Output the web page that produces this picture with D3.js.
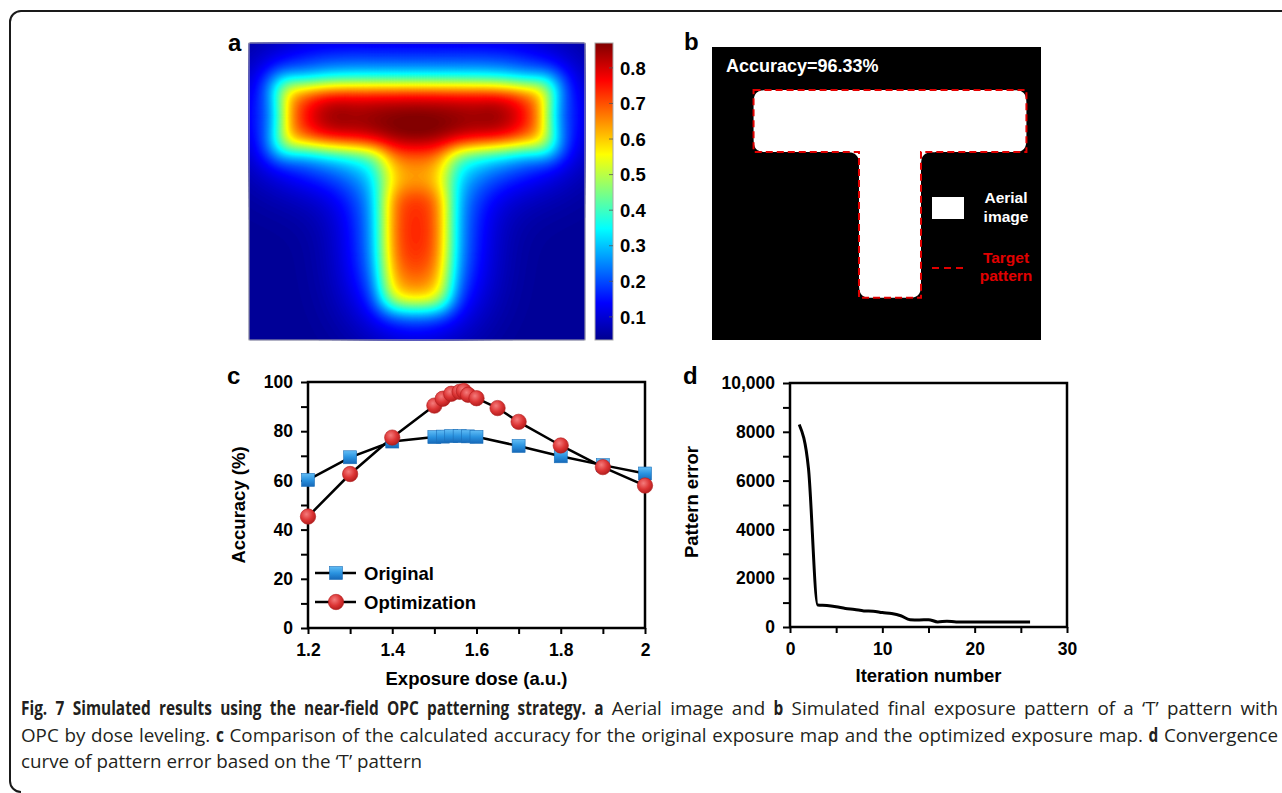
<!DOCTYPE html>
<meta charset="utf-8">
<title>Fig. 7 near-field OPC</title>
<style>
body { margin: 0; background: #fff; }
svg text { font-family: "Liberation Sans", Arial, sans-serif; }
.cap text { font-family: "Open Sans", sans-serif; font-size: 18.8px; fill: #231f20; }
</style>
<body>
<div id="fig"></div>
<script src="https://cdn.jsdelivr.net/npm/d3@7"></script>
<script>

// ---- panel a / b : T pattern (pattern units) ----
var targetRects = [[-4.4, 4.4, 0, 2], [-1, 1, 2, 6.7]];           // bar, stem
var targetOutline = [[-4.4, 0], [4.4, 0], [4.4, 2], [1, 2], [1, 6.7], [-1, 6.7], [-1, 2], [-4.4, 2]];
// exposure map with OPC used for the aerial image:
// bar, upper stem, lower stem, 4 corner serifs, 2 dose boosts in the bar
var doseRects = [[-4.3, 4.3, 0, 2], [-1.02, 1.08, 2, 3.4], [-1.02, 1.08, 3.4, 7.2],
  [-4.7, -4.0, -0.35, 0.35], [4.0, 4.7, -0.35, 0.35], [-4.7, -4.0, 1.65, 2.35], [4.0, 4.7, 1.65, 2.35],
  [-3.4, -2.2, 0.3, 1.7], [2.2, 3.4, 0.3, 1.7]];
var doseWeights = [0.97, 0.55, 0.88, 0.4, 0.4, 0.4, 0.4, 0.1, 0.1];
var colorbarTicks = [0.1, 0.2, 0.3, 0.4, 0.5, 0.6, 0.7, 0.8];
var colorDomain = [0.035, 0.87];
var accuracyText = "Accuracy=96.33%";

// ---- panel c ----
var doseOriginal = [1.2, 1.3, 1.4, 1.5, 1.52, 1.54, 1.56, 1.58, 1.6, 1.7, 1.8, 1.9, 2.0];
var accOriginal  = [60.2, 69.4, 75.8, 77.6, 77.8, 78.0, 78.0, 77.9, 77.7, 74.0, 69.8, 66.2, 62.8];
var doseOptim = [1.2, 1.3, 1.4, 1.5, 1.52, 1.54, 1.56, 1.57, 1.58, 1.6, 1.65, 1.7, 1.8, 1.9, 2.0];
var accOptim  = [45.3, 62.6, 77.4, 90.4, 93.2, 95.2, 96.0, 96.33, 94.8, 93.4, 89.4, 83.8, 74.2, 65.4, 57.9];
var doseTicks = [1.2, 1.3, 1.4, 1.5, 1.6, 1.7, 1.8, 1.9, 2.0];
var accTicks = [0, 10, 20, 30, 40, 50, 60, 70, 80, 90, 100];

// ---- panel d ----
var iterations = [1, 2, 3, 4, 5, 6, 7, 8, 9, 10, 11, 12, 13, 14, 15, 16, 17, 18, 19, 20, 21, 22, 23, 24, 25, 26];
var patternError = [8300, 6500, 900, 880, 830, 760, 720, 660, 650, 590, 550, 460, 300, 290, 300,
  210, 240, 210, 210, 210, 210, 210, 210, 210, 210, 210];
var iterTicks = [0, 5, 10, 15, 20, 25, 30];
var errTicks = [0, 1000, 2000, 3000, 4000, 5000, 6000, 7000, 8000, 9000, 10000];

var W = 1282, H = 793;
var svg = d3.select("#fig").append("svg").attr("width", W).attr("height", H);
var defs = svg.append("defs");

// frame
svg.append("path")
  .attr("d", "M1290,11 H21 A11,11 0 0 0 10,22 V781 A11,11 0 0 0 21,792")
  .attr("fill", "none").attr("stroke", "#1a1a1a").attr("stroke-width", 2);

// ---------- helpers ----------
function erf(x) {
  var s = x < 0 ? -1 : 1; x = Math.abs(x);
  var t = 1 / (1 + 0.3275911 * x);
  var y = 1 - (((((1.061405429 * t - 1.453152027) * t) + 1.421413741) * t - 0.284496736) * t + 0.254829592) * t * Math.exp(-x * x);
  return s * y;
}
function blurRect(x, y, r, s) {
  var k = 1 / (s * Math.SQRT2);
  return 0.25 * (erf((x - r[0]) * k) - erf((x - r[1]) * k)) * (erf((y - r[2]) * k) - erf((y - r[3]) * k));
}
function gridValues(xd, yd, nx, ny, f) {
  var dx = (xd[1] - xd[0]) / nx, dy = (yd[1] - yd[0]) / ny, v = new Array(nx * ny);
  for (var j = 0; j < ny; j++) for (var i = 0; i < nx; i++)
    v[j * nx + i] = f(xd[0] + (i + 0.5) * dx, yd[0] + (j + 0.5) * dy);
  return v;
}
function gridPath(xs, ys, nx, ny) {
  var xd = xs.domain(), yd = ys.domain();
  return d3.geoPath(d3.geoTransform({ point: function (gx, gy) {
    this.stream.point(xs(xd[0] + gx * (xd[1] - xd[0]) / nx), ys(yd[0] + gy * (yd[1] - yd[0]) / ny));
  }}));
}

// jet colour map
var jetStops = [0, 0.125, 0.375, 0.625, 0.875, 1];
var jet = d3.scaleLinear()
  .domain(jetStops.map(function (t) { return colorDomain[0] + t * (colorDomain[1] - colorDomain[0]); }))
  .range(["#00008f", "#0000ff", "#00ffff", "#ffff00", "#ff0000", "#800000"])
  .clamp(true);

// ---------- panel a ----------
var xa = d3.scaleLinear().domain([-5.35, 5.48]).range([249, 585]);
var ya = d3.scaleLinear().domain([-1.35, 8.23]).range([43, 340]);
var nxA = 224, nyA = 198;
function aerial(x, y) {
  var v = 0.04;
  doseRects.forEach(function (r, k) {
    v += doseWeights[k] * (0.38 * blurRect(x, y, r, 0.35) + 0.7 * blurRect(x, y, r, 1.2));
  });
  return v;
}
var valsA = gridValues(xa.domain(), ya.domain(), nxA, nyA, aerial);
var step = 0.005;
var levels = d3.range(colorDomain[0], colorDomain[1], step);
var contA = d3.contours().size([nxA, nyA]).thresholds(levels)(valsA);
var gA = svg.append("g");
gA.append("rect").attr("x", xa.range()[0]).attr("y", ya.range()[0])
  .attr("width", xa.range()[1] - xa.range()[0]).attr("height", ya.range()[1] - ya.range()[0])
  .attr("fill", jet(colorDomain[0]));
var pathA = gridPath(xa, ya, nxA, nyA);
gA.selectAll("path").data(contA).enter().append("path")
  .attr("d", pathA)
  .attr("fill", function (d) { return jet(d.value + step / 2); })
  .attr("stroke", function (d) { return jet(d.value + step / 2); })
  .attr("stroke-width", 0.3);
gA.append("rect").attr("x", xa.range()[0]).attr("y", ya.range()[0])
  .attr("width", xa.range()[1] - xa.range()[0]).attr("height", ya.range()[1] - ya.range()[0])
  .attr("fill", "none").attr("stroke", "#a8a8a8").attr("stroke-width", 1);

// colour bar
var yc = d3.scaleLinear().domain(colorDomain).range([340, 43]);
var grad = defs.append("linearGradient").attr("id", "jetgrad")
  .attr("x1", 0).attr("y1", 1).attr("x2", 0).attr("y2", 0);
grad.selectAll("stop").data(jet.domain()).enter().append("stop")
  .attr("offset", function (d) { return (d - colorDomain[0]) / (colorDomain[1] - colorDomain[0]); })
  .attr("stop-color", function (d) { return jet(d); });
svg.append("rect").attr("x", 595).attr("y", yc(colorDomain[1])).attr("width", 18)
  .attr("height", yc(colorDomain[0]) - yc(colorDomain[1]))
  .attr("fill", "url(#jetgrad)").attr("stroke", "#a8a8a8").attr("stroke-width", 1);
var cbT = svg.append("g").selectAll("g").data(colorbarTicks).enter().append("g");
cbT.append("line").attr("x1", 609).attr("x2", 613)
  .attr("y1", function (d) { return yc(d); }).attr("y2", function (d) { return yc(d); })
  .attr("stroke", "#555").attr("stroke-width", 0.8);
cbT.append("text").attr("x", 620).attr("y", function (d) { return yc(d); }).attr("dy", "0.36em")
  .attr("font-size", 18.5).attr("font-weight", "bold").text(function (d) { return d.toFixed(1); });

// ---------- panel b ----------
var xb = d3.scaleLinear().domain([-5.74, 4.87]).range([712, 1041]);
var yb = d3.scaleLinear().domain([-1.39, 8.06]).range([47, 340]);
svg.append("rect").attr("x", 712).attr("y", 47).attr("width", 329).attr("height", 293).attr("fill", "#000");
var nxB = 330, nyB = 294;
var valsB = gridValues(xb.domain(), yb.domain(), nxB, nyB, function (x, y) {
  return targetRects.reduce(function (s, r) { return s + blurRect(x, y, r, 0.17); }, 0);
});
var contB = d3.contours().size([nxB, nyB]).thresholds([0.5])(valsB);
svg.append("g").selectAll("path").data(contB).enter().append("path")
  .attr("d", gridPath(xb, yb, nxB, nyB)).attr("fill", "#fff");
svg.append("path").datum(targetOutline)
  .attr("d", d3.line().x(function (d) { return xb(d[0]); }).y(function (d) { return yb(d[1]); }).curve(d3.curveLinearClosed))
  .attr("fill", "none").attr("stroke", "#e00000").attr("stroke-width", 2).attr("stroke-dasharray", "7,4");
svg.append("text").attr("x", 726).attr("y", 72).attr("fill", "#fff")
  .attr("font-size", 18).attr("font-weight", "bold").text(accuracyText);
// legend b
svg.append("rect").attr("x", 932).attr("y", 197).attr("width", 32).attr("height", 22).attr("fill", "#fff");
svg.append("text").attr("x", 1006).attr("y", 203).attr("text-anchor", "middle").attr("fill", "#fff")
  .attr("font-size", 15.5).attr("font-weight", "bold").text("Aerial");
svg.append("text").attr("x", 1006).attr("y", 222).attr("text-anchor", "middle").attr("fill", "#fff")
  .attr("font-size", 15.5).attr("font-weight", "bold").text("image");
svg.append("line").attr("x1", 932).attr("x2", 967).attr("y1", 268).attr("y2", 268)
  .attr("stroke", "#e00000").attr("stroke-width", 2).attr("stroke-dasharray", "7,5");
svg.append("text").attr("x", 1006).attr("y", 263).attr("text-anchor", "middle").attr("fill", "#e00000")
  .attr("font-size", 15.5).attr("font-weight", "bold").text("Target");
svg.append("text").attr("x", 1006).attr("y", 281).attr("text-anchor", "middle").attr("fill", "#e00000")
  .attr("font-size", 15.5).attr("font-weight", "bold").text("pattern");

// ---------- shared axis styling ----------
function styleAxis(g) {
  g.attr("font-family", null).attr("font-size", 17.5).attr("font-weight", "bold");
  g.select(".domain").remove();
  g.selectAll(".tick line").attr("stroke", "#000").attr("stroke-width", 2);
  g.selectAll(".tick text").attr("fill", "#000");
}
function box(xs, ys) {
  svg.append("rect").attr("x", xs.range()[0]).attr("y", ys.range()[1])
    .attr("width", xs.range()[1] - xs.range()[0]).attr("height", ys.range()[0] - ys.range()[1])
    .attr("fill", "none").attr("stroke", "#000").attr("stroke-width", 2.5);
}

// gradients for markers
var bg = defs.append("linearGradient").attr("id", "sq").attr("x1", 0).attr("y1", 0).attr("x2", 0).attr("y2", 1);
bg.append("stop").attr("offset", 0).attr("stop-color", "#62bdf5");
bg.append("stop").attr("offset", 0.5).attr("stop-color", "#2a93e0");
bg.append("stop").attr("offset", 1).attr("stop-color", "#1668b8");
var rg = defs.append("radialGradient").attr("id", "ci").attr("cx", 0.4).attr("cy", 0.35).attr("r", 0.65);
rg.append("stop").attr("offset", 0).attr("stop-color", "#f47c7c");
rg.append("stop").attr("offset", 0.6).attr("stop-color", "#dc3434");
rg.append("stop").attr("offset", 1).attr("stop-color", "#b41f1f");

// ---------- panel c ----------
var xc = d3.scaleLinear().domain([1.2, 2.0]).range([308, 645]);
var yv = d3.scaleLinear().domain([0, 100]).range([628, 382]);
box(xc, yv);
svg.append("g").attr("transform", "translate(0,628)")
  .call(d3.axisBottom(xc).tickValues(doseTicks).tickSize(6).tickPadding(10)
    .tickFormat(function (d) { var k = Math.round(d * 10); return k % 2 === 0 ? d3.format("~g")(d) : ""; }))
  .call(styleAxis);
svg.append("g").attr("transform", "translate(308,0)")
  .call(d3.axisLeft(yv).tickValues(accTicks).tickSize(7).tickPadding(8)
    .tickFormat(function (d) { return d % 20 === 0 ? d : ""; }))
  .call(styleAxis);
var optPts = doseOptim.map(function (d, i) { return [d, accOptim[i]]; });
var orgPts = doseOriginal.map(function (d, i) { return [d, accOriginal[i]]; });
var lineC = d3.line().x(function (d) { return xc(d[0]); }).y(function (d) { return yv(d[1]); });
svg.append("path").datum(orgPts).attr("d", lineC).attr("fill", "none").attr("stroke", "#000").attr("stroke-width", 2.5);
svg.append("path").datum(optPts).attr("d", lineC).attr("fill", "none").attr("stroke", "#000").attr("stroke-width", 2.5);
svg.append("g").selectAll("rect").data(orgPts).enter().append("rect")
  .attr("x", function (d) { return xc(d[0]) - 6.5; }).attr("y", function (d) { return yv(d[1]) - 6.5; })
  .attr("width", 13).attr("height", 13).attr("fill", "url(#sq)").attr("stroke", "#1d6fb8").attr("stroke-width", 0.6);
svg.append("g").selectAll("circle").data(optPts).enter().append("circle")
  .attr("cx", function (d) { return xc(d[0]); }).attr("cy", function (d) { return yv(d[1]); })
  .attr("r", 7.7).attr("fill", "url(#ci)").attr("stroke", "#b01c1c").attr("stroke-width", 0.6);
// legend c
var legC = svg.append("g");
[["Original", 573], ["Optimization", 602]].forEach(function (e, i) {
  legC.append("line").attr("x1", 315).attr("x2", 356).attr("y1", e[1]).attr("y2", e[1])
    .attr("stroke", "#000").attr("stroke-width", 2.5);
  if (i === 0) legC.append("rect").attr("x", 329.5).attr("y", e[1] - 6.5).attr("width", 13).attr("height", 13)
    .attr("fill", "url(#sq)").attr("stroke", "#1d6fb8").attr("stroke-width", 0.6);
  else legC.append("circle").attr("cx", 336).attr("cy", e[1]).attr("r", 7.7)
    .attr("fill", "url(#ci)").attr("stroke", "#b01c1c").attr("stroke-width", 0.6);
  legC.append("text").attr("x", 364).attr("y", e[1]).attr("dy", "0.36em")
    .attr("font-size", 18.5).attr("font-weight", "bold").text(e[0]);
});
svg.append("text").attr("transform", "translate(245,505) rotate(-90)").attr("text-anchor", "middle")
  .attr("font-size", 18.5).attr("font-weight", "bold").text("Accuracy (%)");
svg.append("text").attr("x", 476.5).attr("y", 685).attr("text-anchor", "middle")
  .attr("font-size", 18.5).attr("font-weight", "bold").text("Exposure dose (a.u.)");

// ---------- panel d ----------
var xd = d3.scaleLinear().domain([0, 30]).range([790, 1067]);
var ye = d3.scaleLinear().domain([0, 10000]).range([627, 383]);
box(xd, ye);
svg.append("g").attr("transform", "translate(0,627)")
  .call(d3.axisBottom(xd).tickValues(iterTicks).tickSize(6).tickPadding(10)
    .tickFormat(function (d) { return d % 10 === 0 ? d : ""; }))
  .call(styleAxis);
svg.append("g").attr("transform", "translate(790,0)")
  .call(d3.axisLeft(ye).tickValues(errTicks).tickSize(7).tickPadding(8)
    .tickFormat(function (d) { return d % 2000 !== 0 ? "" : (d === 10000 ? "10,000" : d); }))
  .call(styleAxis);
svg.append("path").datum(iterations.map(function (d, i) { return [d, patternError[i]]; }))
  .attr("d", d3.line().x(function (d) { return xd(d[0]); }).y(function (d) { return ye(d[1]); }).curve(d3.curveMonotoneX))
  .attr("fill", "none").attr("stroke", "#000").attr("stroke-width", 3);
svg.append("text").attr("transform", "translate(698,502) rotate(-90)").attr("text-anchor", "middle")
  .attr("font-size", 18.5).attr("font-weight", "bold").text("Pattern error");
svg.append("text").attr("x", 928.5).attr("y", 682).attr("text-anchor", "middle")
  .attr("font-size", 18.5).attr("font-weight", "bold").text("Iteration number");

// panel letters
[["a", 228, 51], ["b", 684, 50], ["c", 227, 384], ["d", 683, 384]].forEach(function (p) {
  svg.append("text").attr("x", p[1]).attr("y", p[2]).attr("font-size", 24).attr("font-weight", "bold").text(p[0]);
});

// ---------- caption (word by word, justified; bold words condensed) ----------
var captionLines = [
  [["Fig. 7 Simulated results using the near-field OPC patterning strategy. a", true],
   ["Aerial image and", false], ["b", true], ["Simulated final exposure pattern of a \u2018T\u2019 pattern with", false]],
  [["OPC by dose leveling.", false], ["c", true],
   ["Comparison of the calculated accuracy for the original exposure map and the optimized exposure map.", false],
   ["d", true], ["Convergence", false]],
  [["curve of pattern error based on the \u2018T\u2019 pattern", false]]
];
var capBase = [715, 742, 768];
var capLeft = 21, capWidth = 1257, boldScale = 0.82;
var gCap = svg.append("g").attr("class", "cap");
var spaceW = (function () {
  var t = gCap.append("text").text("a a"), w1 = t.node().getComputedTextLength();
  t.text("aa"); var w2 = t.node().getComputedTextLength(); t.remove(); return w1 - w2;
})();
captionLines.forEach(function (segs, li) {
  var words = [];
  segs.forEach(function (s) { s[0].split(" ").forEach(function (w) { words.push({ w: w, b: s[1] }); }); });
  var sum = 0;
  words.forEach(function (o) {
    o.el = gCap.append("text").attr("font-weight", o.b ? "bold" : "normal").text(o.w);
    o.width = o.el.node().getComputedTextLength() * (o.b ? boldScale : 1);
    sum += o.width;
  });
  var gap = li < 2 ? (capWidth - sum) / (words.length - 1) : spaceW;
  var x = capLeft;
  words.forEach(function (o) {
    o.el.attr("transform", "translate(" + x + "," + capBase[li] + ")" + (o.b ? " scale(" + boldScale + ",1)" : ""));
    x += o.width + gap;
  });
});
</script>
</body>
